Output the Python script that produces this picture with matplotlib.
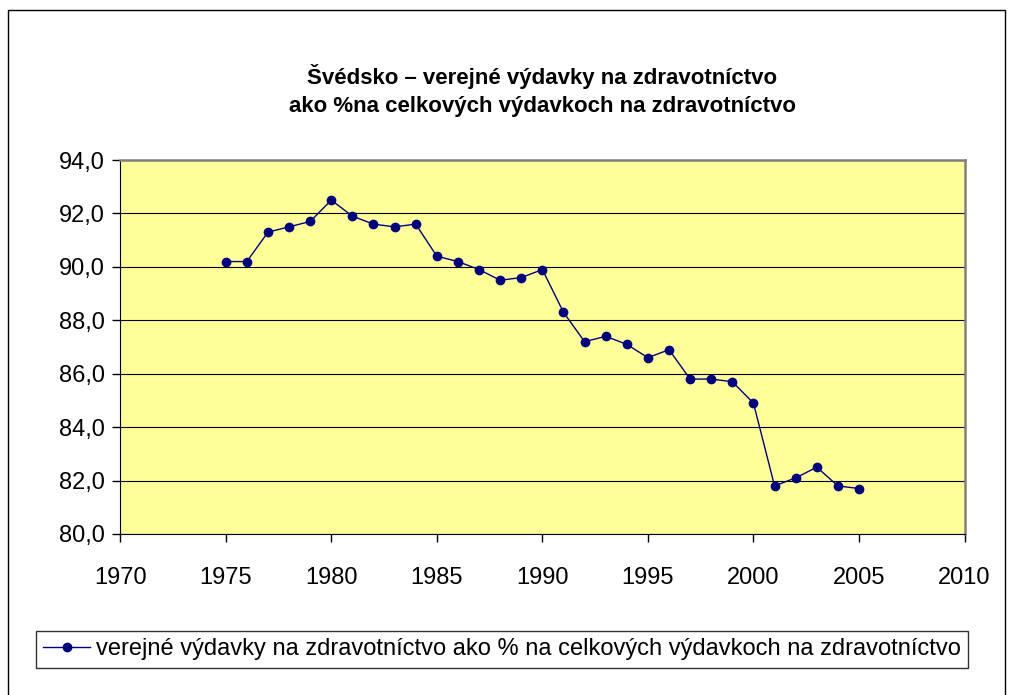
import matplotlib.pyplot as plt
from matplotlib.patches import Rectangle
from matplotlib.ticker import FuncFormatter

plt.rcParams['font.family'] = ['Liberation Sans', 'DejaVu Sans']

# Data
roky = list(range(1975, 2006))
hodnoty = [90.2, 90.2, 91.3, 91.5, 91.7, 92.5, 91.9, 91.6, 91.5, 91.6,
           90.4, 90.2, 89.9, 89.5, 89.6, 89.9, 88.3, 87.2, 87.4, 87.1,
           86.6, 86.9, 85.8, 85.8, 85.7, 84.9, 81.8, 82.1, 82.5, 81.8,
           81.7]
nazov = "Švédsko – verejné výdavky na zdravotníctvo\nako %na celkových výdavkoch na zdravotníctvo"
legenda = "verejné výdavky na zdravotníctvo ako % na celkových výdavkoch na zdravotníctvo"

fig = plt.figure(figsize=(10.1, 6.95), dpi=100)
ax = fig.add_axes([0.119, 0.2317, 0.836, 0.538])

# outer frame
fig.patches.append(Rectangle((8 / 1010, -0.01), 997 / 1010, 1 - 10 / 695 + 0.01,
                             transform=fig.transFigure, fill=False,
                             edgecolor='black', linewidth=1))

ax.set_facecolor('#FFFF99')
ax.plot(roky, hodnoty, color='#000080', marker='o', markersize=6,
        linewidth=1, label=legenda, zorder=3)

ax.set_xlim(1970, 2010)
ax.set_ylim(80, 94)
ax.set_xticks(range(1970, 2011, 5))
ax.set_yticks(range(80, 95, 2))
ax.yaxis.set_major_formatter(FuncFormatter(lambda v, p: f"{v:.1f}".replace('.', ',')))
ax.grid(axis='y', color='black', linewidth=0.8)
ax.set_axisbelow(True)
ax.tick_params(labelsize=17, length=6, color='black', width=1)
ax.tick_params(axis='y', pad=5)
ax.tick_params(axis='x', pad=18)
for s in ['left', 'bottom']:
    ax.spines[s].set_color('black')
for s in ['top', 'right']:
    ax.spines[s].set_color('#808080')
    ax.spines[s].set_linewidth(1.8)

fig.text(0.537, 0.87, nazov, ha='center', va='center', fontsize=16,
         fontweight='bold', linespacing=1.45)

leg = fig.legend(loc='center', bbox_to_anchor=(0.497, 0.0655), fontsize=17,
                 frameon=True, fancybox=False, edgecolor='black',
                 handlelength=2.0, handletextpad=0.25, borderpad=0.3,
                 borderaxespad=0)
leg.get_frame().set_linewidth(1)

plt.savefig('out.png', dpi=100)
